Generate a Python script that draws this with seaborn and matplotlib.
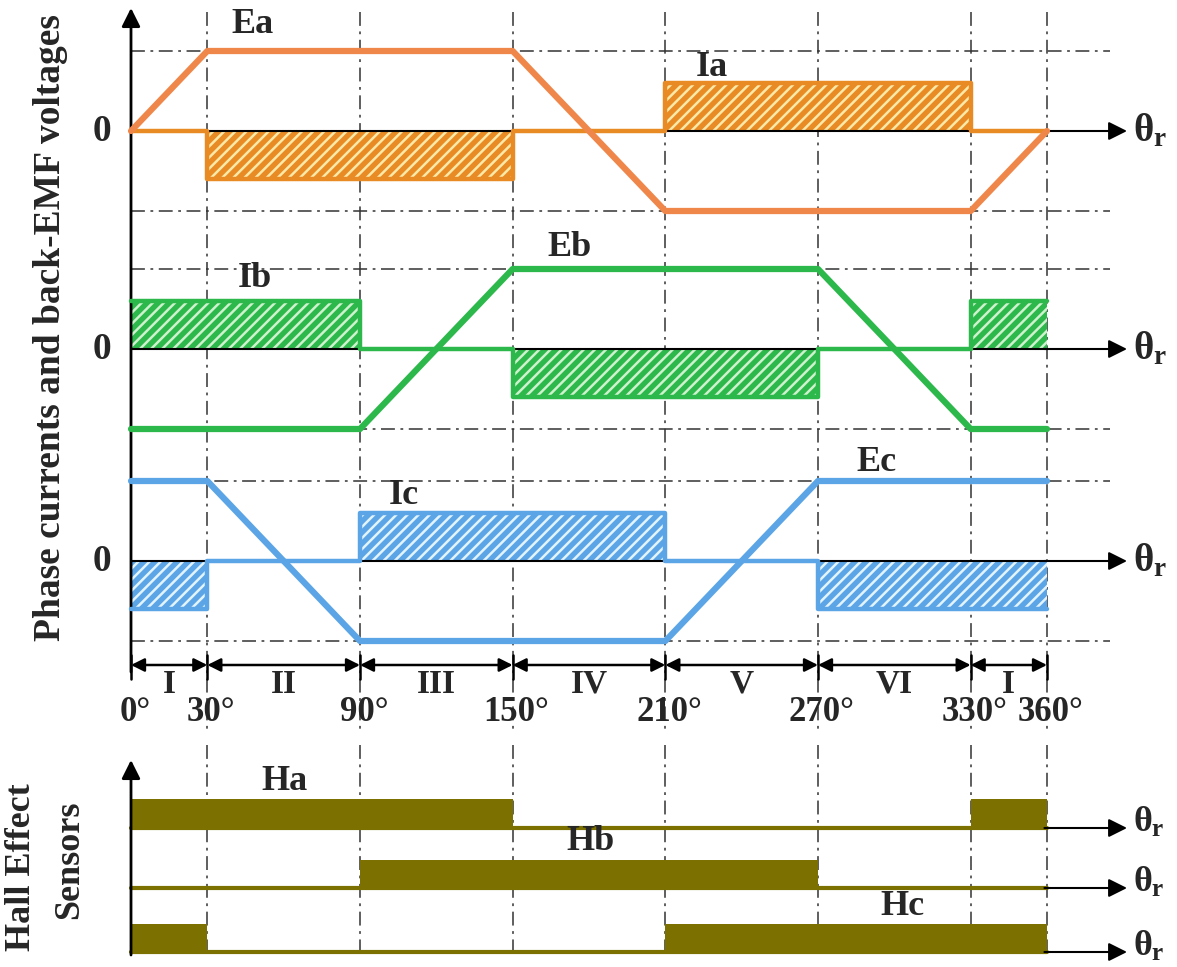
import numpy as np
import pandas as pd
import matplotlib
matplotlib.use("Agg")
import matplotlib.pyplot as plt
import seaborn as sns

# angles (deg) of the commutation boundaries and sector names
bounds = [0, 30, 90, 150, 210, 270, 330, 360]
sectors = ["I", "II", "III", "IV", "V", "VI", "I"]

# trapezoidal back-EMF breakpoints (normalised)
ea_x = [0, 30, 150, 210, 330, 360]
ea_y = [0, 1, 1, -1, -1, 0]
eb_x = [0, 90, 150, 270, 330, 360]
eb_y = [-1, -1, 1, 1, -1, -1]
ec_x = [0, 30, 90, 210, 270, 360]
ec_y = [1, 1, -1, -1, 1, 1]

# phase currents per sector (sign), amplitude relative to EMF
ia = [0, -1, -1, 0, 1, 1, 0]
ib = [1, 1, 0, -1, -1, 0, 1]
ic = [-1, 0, 1, 1, 0, -1, -1]
i_amp = 0.6

# hall sensor states per sector
ha = [1, 1, 1, 0, 0, 0, 1]
hb = [0, 0, 1, 1, 1, 0, 0]
hc = [1, 0, 0, 0, 1, 1, 1]

sns.set_theme(style="white")
plt.rcParams["font.family"] = ["Liberation Serif", "DejaVu Serif"]
plt.rcParams["font.weight"] = "bold"
plt.rcParams["mathtext.fontset"] = "custom"
plt.rcParams["mathtext.rm"] = "Liberation Serif:bold"
plt.rcParams["mathtext.it"] = "Liberation Serif:bold"
plt.rcParams["mathtext.bf"] = "Liberation Serif:bold"
plt.rcParams["hatch.linewidth"] = 1.8
plt.rcParams["lines.scale_dashes"] = False

W, H = 1177, 967
S = 916 / 360          # px per degree
U = 80                 # px per EMF unit
fig = plt.figure(figsize=(W / 100, H / 100), dpi=100)

# ---------------- main panel ----------------
ax = fig.add_axes([0, 1 - 730 / H, 1, 730 / H])
ax.set_xlim(-131 / S, (W - 131) / S)
ax.set_ylim(-(730 - 131) / U, 131 / U)
ax.axis("off")

offsets = [0, -218 / U, -430 / U]
colors = ["#F0874A", "#2DB84B", "#5BA5E6"]
icolors = ["#E98B25", "#2DB84B", "#5BA5E6"]
hatchc = ["#FBE9A8", "#CDF2CD", "#E2F4FF"]
emfs = [(ea_x, ea_y), (eb_x, eb_y), (ec_x, ec_y)]
currents = [ia, ib, ic]

dash = (0, (10, 4, 2, 4))
grid_end = (1110 - 131) / S

def step_points(vals):
    xs, ys = [], []
    for k, v in enumerate(vals):
        xs += [bounds[k], bounds[k + 1]]
        ys += [v, v]
    return np.array(xs), np.array(ys)

for k, off in enumerate(offsets):
    # dash-dot reference levels
    for lvl in (1, -1):
        ax.plot([0, grid_end], [off + lvl, off + lvl], color="#333333", lw=1.1, ls=dash, zorder=1)
    ix, iy = step_points(currents[k])
    iy = off + i_amp * iy
    ax.fill_between(ix, off, iy, facecolor=icolors[k], edgecolor=hatchc[k],
                    hatch="///", linewidth=0, zorder=2)
    # zero axis with arrow
    ax.plot([0, 360], [off, off], color="black", lw=1.5, zorder=3)
    ax.annotate("", xy=((1127 - 131) / S, off), xytext=(359, off),
                arrowprops=dict(arrowstyle="-|>", color="black", lw=1.5,
                                mutation_scale=28, shrinkA=0, shrinkB=0), zorder=3)
    ax.text((1133 - 131) / S, off, r"$\theta_r$", fontsize=28, va="center", ha="left")
    ax.text((102 - 131) / S, off, "0", fontsize=27, va="center", ha="center")
    sns.lineplot(x=ix, y=iy, estimator=None, sort=False, color=icolors[k], lw=3.2, ax=ax, zorder=4)
    ex, ey = emfs[k]
    sns.lineplot(x=ex, y=off + np.array(ey), estimator=None, sort=False,
                 color=colors[k], lw=4.5, ax=ax, zorder=5)

# vertical sector lines
for b in bounds[1:]:
    ax.plot([b, b], [(131 - 12) / U, -(730 - 131) / U], color="#333333", lw=1.1, ls=dash, zorder=0)

# y axis arrow
ax.annotate("", xy=(0, (131 - 8) / U), xytext=(0, -(672 - 131) / U),
            arrowprops=dict(arrowstyle="-|>", color="black", lw=2,
                            mutation_scale=28, shrinkA=0, shrinkB=0))

# labels of waveforms
lab_pos = {"Ea": (47.6, 1.33), "Ia": (228.4, 0.79), "Eb": (172.5, -1.45),
           "Ib": (48.7, -1.84), "Ec": (292.8, -4.14), "Ic": (107.3, -4.56)}
for t, (x, y) in lab_pos.items():
    ax.text(x, y, t, fontsize=26, ha="center", va="center")

ax.text(-31.5, -2.46, "Phase currents and back-EMF voltages", rotation=90,
        fontsize=27, ha="center", va="center")

# sector arrows and angle labels
ya = -(665 - 131) / U
for k in range(len(sectors)):
    ax.annotate("", xy=(bounds[k + 1], ya), xytext=(bounds[k], ya),
                arrowprops=dict(arrowstyle="<|-|>", color="black", lw=1.8,
                                mutation_scale=20, shrinkA=0, shrinkB=0))
    ax.text((bounds[k] + bounds[k + 1]) / 2, -(684 - 131) / U, sectors[k],
            fontsize=24, ha="center", va="center")
for b in bounds:
    ax.plot([b, b], [ya + 0.13, ya - 0.17], color="black", lw=1.8)
    ax.text(b + 1.5, -(712 - 131) / U, f"{b}°", fontsize=25, ha="center", va="center")

# ---------------- hall sensor panel ----------------
hx = fig.add_axes([0, 0, 1, 227 / H])
HU = 30
hx.set_xlim(-131 / S, (W - 131) / S)
hx.set_ylim(-(H - 952) / HU, (952 - 740) / HU)
hx.axis("off")

olive = "#7B7000"
h_base = [(952 - 828) / HU, (952 - 888) / HU, 0]
h_lab = [("Ha", 60.5, 5.7), ("Hb", 180.4, 3.67), ("Hc", 303, 1.53)]
for k, hs in enumerate([ha, hb, hc]):
    base = h_base[k]
    hxs, hys = step_points(hs)
    hx.fill_between(hxs, base, base + 0.95 * hys, color=olive, lw=0, zorder=2)
    sns.lineplot(x=hxs, y=np.full(len(hxs), base), estimator=None, sort=False,
                 color=olive, lw=3, ax=hx, zorder=2)
    hx.annotate("", xy=((1127 - 131) / S, base), xytext=(359, base),
                arrowprops=dict(arrowstyle="-|>", color="black", lw=1.5,
                                mutation_scale=28, shrinkA=0, shrinkB=0))
    hx.text((1133 - 131) / S, base + 5 / HU, r"$\theta_r$", fontsize=26, va="center", ha="left")
    t, x, y = h_lab[k]
    hx.text(x, y, t, fontsize=26, ha="center", va="center")

for b in bounds[1:]:
    hx.plot([b, b], [(952 - 745) / HU, -(955 - 952) / HU], color="#333333", lw=1.1, ls=dash, zorder=0)

hx.annotate("", xy=(0, (952 - 760) / HU), xytext=(0, -(955 - 952) / HU),
            arrowprops=dict(arrowstyle="-|>", color="black", lw=2,
                            mutation_scale=28, shrinkA=0, shrinkB=0))
hx.text((22 - 131) / S, (952 - 867) / HU, "Hall Effect", rotation=90, fontsize=26,
        ha="center", va="center")
hx.text((70 - 131) / S, (952 - 860) / HU, "Sensors", rotation=90, fontsize=26,
        ha="center", va="center")

fig.savefig("out.png", dpi=100, facecolor="white")
